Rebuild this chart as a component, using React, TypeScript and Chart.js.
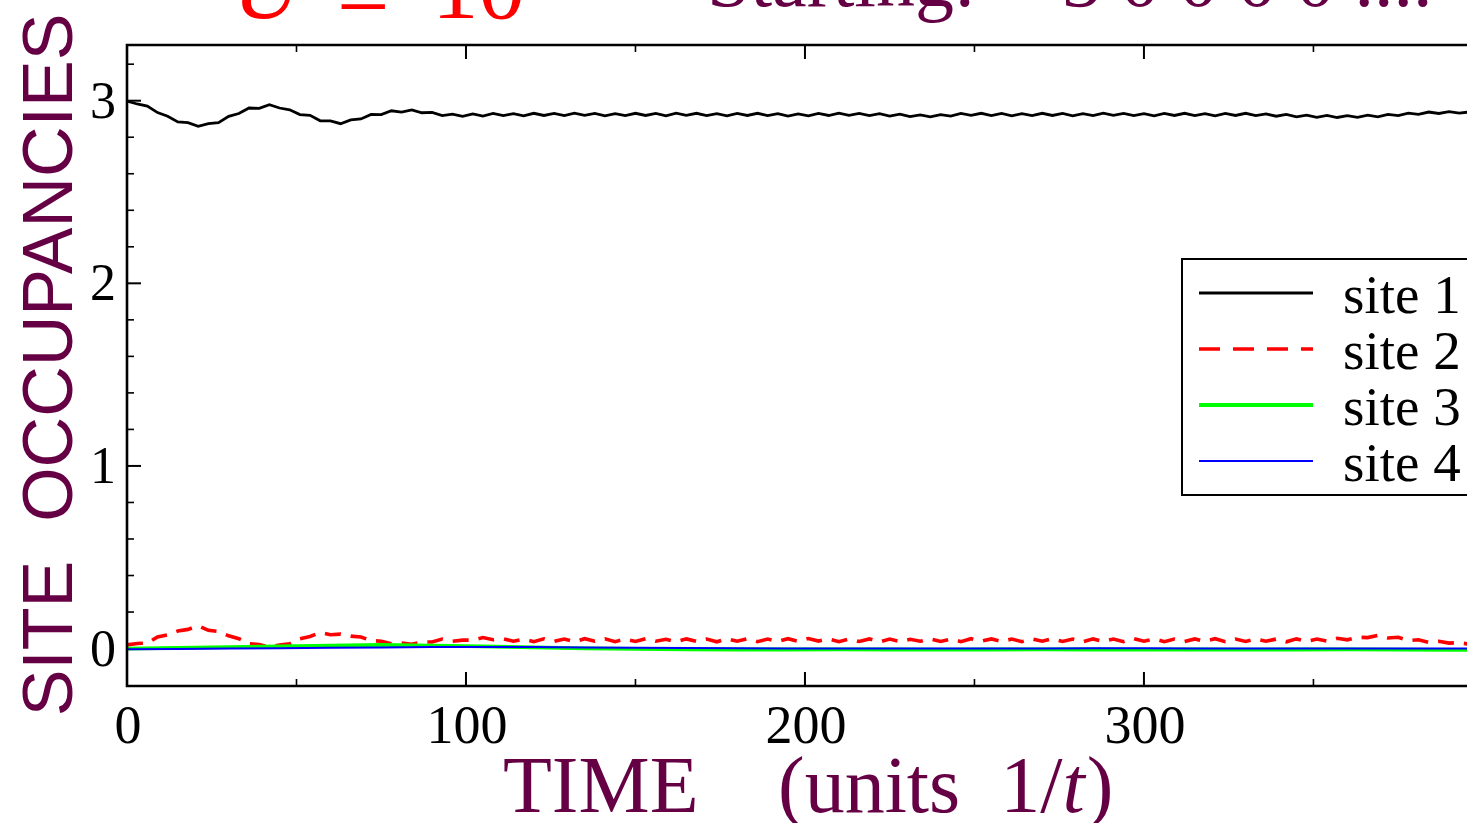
import React, { useEffect, useRef } from 'react';
import { Chart, registerables } from 'chart.js';

Chart.register(...registerables);

// Time grid (units 1/t) for sites 1 and 2
const TIMES = [
  0, 3, 6, 9, 12, 15, 18, 21, 24, 27, 30, 33, 36, 39, 42, 45, 48, 51, 54, 57,
  60, 63, 66, 69, 72, 75, 78, 81, 84, 87, 90, 93, 96, 99, 102, 105, 108, 111, 114, 117,
  120, 123, 126, 129, 132, 135, 138, 141, 144, 147, 150, 153, 156, 159, 162, 165, 168, 171, 174, 177,
  180, 183, 186, 189, 192, 195, 198, 201, 204, 207, 210, 213, 216, 219, 222, 225, 228, 231, 234, 237,
  240, 243, 246, 249, 252, 255, 258, 261, 264, 267, 270, 273, 276, 279, 282, 285, 288, 291, 294, 297,
  300, 303, 306, 309, 312, 315, 318, 321, 324, 327, 330, 333, 336, 339, 342, 345, 348, 351, 354, 357,
  360, 363, 366, 369, 372, 375, 378, 381, 384, 387, 390, 393, 396,
];

const SITE1 = [
  2.998, 2.982, 2.970, 2.935, 2.915, 2.884, 2.880, 2.860, 2.875, 2.880,
  2.914, 2.930, 2.960, 2.958, 2.978, 2.960, 2.950, 2.924, 2.920, 2.890,
  2.890, 2.874, 2.895, 2.900, 2.925, 2.924, 2.945, 2.938, 2.950, 2.934,
  2.936, 2.918, 2.926, 2.914, 2.928, 2.916, 2.930, 2.918, 2.929, 2.917,
  2.931, 2.919, 2.930, 2.918, 2.932, 2.920, 2.930, 2.917, 2.929, 2.918,
  2.931, 2.919, 2.930, 2.917, 2.932, 2.920, 2.931, 2.918, 2.929, 2.917,
  2.930, 2.919, 2.931, 2.918, 2.929, 2.916, 2.928, 2.917, 2.930, 2.919,
  2.932, 2.920, 2.930, 2.918, 2.929, 2.916, 2.926, 2.913, 2.922, 2.912,
  2.924, 2.916, 2.930, 2.920, 2.931, 2.918, 2.930, 2.917, 2.929, 2.918,
  2.931, 2.919, 2.930, 2.917, 2.929, 2.918, 2.932, 2.920, 2.930, 2.918,
  2.929, 2.917, 2.930, 2.919, 2.931, 2.918, 2.929, 2.917, 2.930, 2.919,
  2.931, 2.918, 2.928, 2.915, 2.925, 2.912, 2.921, 2.909, 2.919, 2.908,
  2.918, 2.909, 2.921, 2.912, 2.925, 2.918, 2.932, 2.925, 2.938, 2.930,
  2.940, 2.932, 2.938,
];

const SITE2 = [
  0.020, 0.028, 0.030, 0.064, 0.075, 0.096, 0.105, 0.125, 0.100, 0.094,
  0.070, 0.054, 0.026, 0.022, 0.008, 0.020, 0.026, 0.054, 0.066, 0.088,
  0.076, 0.079, 0.068, 0.063, 0.044, 0.040, 0.026, 0.030, 0.024, 0.036,
  0.036, 0.052, 0.040, 0.046, 0.046, 0.060, 0.048, 0.054, 0.040, 0.052,
  0.038, 0.053, 0.039, 0.052, 0.037, 0.054, 0.040, 0.053, 0.038, 0.052,
  0.039, 0.054, 0.040, 0.051, 0.038, 0.053, 0.039, 0.052, 0.037, 0.054,
  0.040, 0.053, 0.038, 0.052, 0.039, 0.054, 0.040, 0.055, 0.041, 0.053,
  0.038, 0.052, 0.039, 0.053, 0.037, 0.052, 0.038, 0.051, 0.040, 0.053,
  0.039, 0.052, 0.038, 0.054, 0.040, 0.053, 0.039, 0.052, 0.038, 0.053,
  0.040, 0.054, 0.039, 0.052, 0.037, 0.053, 0.039, 0.052, 0.038, 0.054,
  0.040, 0.053, 0.038, 0.052, 0.039, 0.053, 0.040, 0.054, 0.038, 0.052,
  0.039, 0.053, 0.040, 0.052, 0.037, 0.053, 0.039, 0.052, 0.041, 0.056,
  0.048, 0.062, 0.060, 0.072, 0.058, 0.062, 0.044, 0.048, 0.034, 0.040,
  0.030, 0.032, 0.024,
];

// Coarser time grid for the nearly flat sites 3 and 4
const COARSE_TIMES = [
  0, 15, 30, 45, 60, 75, 90, 105, 120, 135, 150, 165, 180, 195,
  210, 225, 240, 255, 270, 285, 300, 315, 330, 345, 360, 375, 390, 396,
];

const SITE3 = [
  0.000, 0.004, 0.008, 0.012, 0.016, 0.020, 0.016, 0.012, 0.006, 0.001,
  -0.002, -0.004, -0.005, -0.005, -0.004, -0.005, -0.006, -0.005, -0.004, -0.005,
  -0.006, -0.005, -0.006, -0.005, -0.004, -0.006, -0.007, -0.007,
];

const SITE4 = [
  -0.004, -0.002, 0.000, 0.002, 0.004, 0.006, 0.008, 0.009, 0.008, 0.006,
  0.004, 0.003, 0.002, 0.001, 0.001, 0.000, 0.000, 0.001, 0.001, 0.002,
  0.002, 0.001, 0.001, 0.000, 0.000, 0.000, 0.000, 0.000,
];

const X_TICK_LABELS = [0, 100, 200, 300];
const Y_TICK_LABELS = [0, 1, 2, 3];
const SERIES_NAMES = ['site 1', 'site 2', 'site 3', 'site 4'];
const SERIES_COLORS = ['#000000', '#ff0000', '#00ff00', '#0000ff'];
const SERIES_WIDTHS = [2.8, 3.6, 3.8, 2];
const SERIES_DASH: number[][] = [[], [16, 10], [], []];

const PURPLE = '#660044';
const SERIF = '"Liberation Serif", "DejaVu Serif", serif';
const SANS = '"Liberation Sans", Arial, sans-serif';

const toPoints = (xs: number[], ys: number[]) =>
  ys.map((y, i) => ({ x: xs[i], y }));

const decorPlugin = {
  id: 'decor',
  afterDraw(chart: any) {
    const ctx: CanvasRenderingContext2D = chart.ctx;
    const xs = chart.scales.x;
    const ys = chart.scales.y;
    const a = chart.chartArea;
    ctx.save();

    // Frame
    ctx.strokeStyle = '#000';
    ctx.lineWidth = 2.6;
    ctx.beginPath();
    ctx.moveTo(a.right + 5, a.top);
    ctx.lineTo(a.left, a.top);
    ctx.lineTo(a.left, a.bottom);
    ctx.lineTo(a.right + 5, a.bottom);
    ctx.stroke();

    // X ticks (bottom and mirrored top)
    for (let k = 1; k * 50 <= xs.max; k++) {
      const px = xs.getPixelForValue(k * 50);
      const major = k % 2 === 0;
      const len = major ? 14 : 7;
      ctx.lineWidth = major ? 2 : 1.6;
      ctx.beginPath();
      ctx.moveTo(px, a.bottom);
      ctx.lineTo(px, a.bottom - len);
      ctx.moveTo(px, a.top);
      ctx.lineTo(px, a.top + len);
      ctx.stroke();
    }
    // Y ticks
    for (let k = 1; k <= 16; k++) {
      const py = ys.getPixelForValue(k / 5);
      const major = k % 5 === 0;
      const len = major ? 14 : 7;
      ctx.lineWidth = major ? 2 : 1.6;
      ctx.beginPath();
      ctx.moveTo(a.left, py);
      ctx.lineTo(a.left + len, py);
      ctx.stroke();
    }

    // Tick labels
    ctx.fillStyle = '#000';
    ctx.font = `54px ${SERIF}`;
    ctx.textBaseline = 'alphabetic';
    ctx.textAlign = 'center';
    X_TICK_LABELS.forEach((v) => {
      ctx.fillText(String(v), xs.getPixelForValue(v) + 1, 743);
    });
    ctx.font = `52px ${SERIF}`;
    ctx.textAlign = 'right';
    Y_TICK_LABELS.forEach((v) => {
      ctx.fillText(String(v), 116, ys.getPixelForValue(v) + 17);
    });

    // Y axis title
    ctx.save();
    ctx.fillStyle = PURPLE;
    ctx.font = `70px ${SANS}`;
    ctx.translate(72, 365);
    ctx.rotate(-Math.PI / 2);
    ctx.textAlign = 'center';
    ctx.fillText('SITE  OCCUPANCIES', 0, 0);
    ctx.restore();

    // X axis title
    ctx.fillStyle = PURPLE;
    ctx.textAlign = 'left';
    ctx.font = `80px ${SERIF}`;
    ctx.fillText('TIME', 503, 812);
    let x = 778;
    const p1 = '(units  1/';
    ctx.fillText(p1, x, 812);
    x += ctx.measureText(p1).width;
    ctx.font = `italic 80px ${SERIF}`;
    ctx.fillText('t', x, 812);
    x += ctx.measureText('t').width + 2;
    ctx.font = `80px ${SERIF}`;
    ctx.fillText(')', x, 812);

    // Top title (partly cut off by the page edge)
    ctx.fillStyle = '#ff0000';
    ctx.font = `italic 93px ${SERIF}`;
    ctx.fillText('U', 233, 18);
    ctx.font = `93px ${SERIF}`;
    ctx.fillText('=', 337, 28);
    ctx.fillText('10', 432, 18);
    ctx.fillStyle = PURPLE;
    ctx.font = `78px ${SERIF}`;
    ctx.fillText('Starting:', 707, 6);
    ctx.fillText('3 0 0 0 0 ....', 1062, 6);

    // Legend
    ctx.fillStyle = '#fff';
    ctx.fillRect(1182, 259, 300, 236);
    ctx.strokeStyle = '#000';
    ctx.lineWidth = 2;
    ctx.strokeRect(1182, 259, 300, 236);
    SERIES_NAMES.forEach((name, i) => {
      const ly = 293 + i * 56;
      ctx.strokeStyle = SERIES_COLORS[i];
      ctx.lineWidth = SERIES_WIDTHS[i];
      ctx.setLineDash(i === 1 ? [21, 13] : []);
      ctx.beginPath();
      ctx.moveTo(1199, ly);
      ctx.lineTo(1313, ly);
      ctx.stroke();
      ctx.setLineDash([]);
      ctx.fillStyle = '#000';
      ctx.font = `55px ${SERIF}`;
      ctx.textAlign = 'left';
      ctx.fillText(name, 1343, ly + 20);
    });

    ctx.restore();
  },
};

export default function App() {
  const ref = useRef<HTMLCanvasElement | null>(null);

  useEffect(() => {
    if (!ref.current) return;
    const series = [
      toPoints(TIMES, SITE1),
      toPoints(TIMES, SITE2),
      toPoints(COARSE_TIMES, SITE3),
      toPoints(COARSE_TIMES, SITE4),
    ];
    const chart = new Chart(ref.current, {
      type: 'line',
      data: {
        datasets: series.map((data, i) => ({
          label: SERIES_NAMES[i],
          data,
          borderColor: SERIES_COLORS[i],
          backgroundColor: SERIES_COLORS[i],
          borderWidth: SERIES_WIDTHS[i],
          borderDash: SERIES_DASH[i],
          pointRadius: 0,
          tension: 0,
          fill: false,
          order: 3 - i,
        })),
      },
      options: {
        responsive: false,
        animation: false,
        layout: { padding: { left: 127, top: 45, right: 0, bottom: 137 } },
        scales: {
          x: { type: 'linear', min: 0, max: 395.3, display: false },
          y: { type: 'linear', min: -0.205, max: 3.305, display: false },
        },
        plugins: {
          legend: { display: false },
          tooltip: { enabled: false },
        },
      },
      plugins: [decorPlugin],
    });
    return () => chart.destroy();
  }, []);

  return (
    <div style={{ position: 'fixed', left: 0, top: 0, width: 1467, height: 823, background: '#fff' }}>
      <canvas ref={ref} width={1467} height={823} style={{ display: 'block' }} />
    </div>
  );
}
